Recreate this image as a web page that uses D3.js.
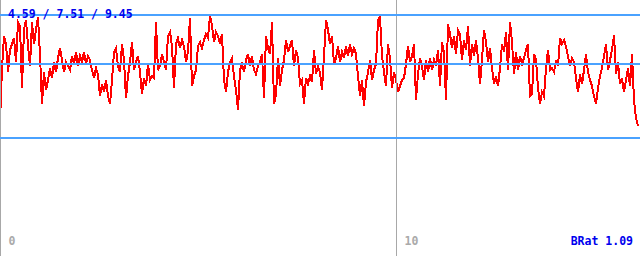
<!DOCTYPE html>
<html><head><meta charset="utf-8">
<script src="https://cdn.jsdelivr.net/npm/d3@7"></script>
<style>
html,body{margin:0;padding:0;background:#fff;}
svg{display:block;}
text{font-family:"DejaVu Sans Mono",monospace;font-weight:bold;font-size:11.5px;}
</style></head>
<body><svg id="c" width="640" height="256"></svg>
<script>
const levelTicks = [4.59, 7.51, 9.45];
const timeTicks = [0, 10];
const ratioLabel = "BRat 1.09";
const sampleStep = 10 / 198;
const series = [
5.17,7.31,8.58,8.26,7.15,8.03,8.26,8.50,7.55,9.13,8.98,6.52,8.82,9.21,8.22,7.39,9.13,8.26,8.82,9.33,
7.83,5.89,7.15,6.44,6.84,7.31,6.92,7.55,7.15,7.71,8.10,7.63,7.15,7.55,7.39,7.23,7.79,7.47,7.95,7.39,
7.79,7.55,7.95,7.47,7.79,7.63,7.23,6.92,7.31,7.07,6.20,6.68,6.36,6.84,6.20,5.89,6.84,7.95,8.10,7.39,
7.15,8.26,7.63,6.12,7.00,7.55,8.34,7.23,7.55,7.79,7.15,6.28,6.92,6.60,7.47,6.84,7.00,6.92,9.13,7.23,
7.39,7.87,7.55,7.23,8.58,8.74,8.18,6.52,8.26,8.50,8.10,8.42,8.18,7.55,7.95,9.29,6.60,7.00,7.23,8.18,
8.34,8.10,8.42,8.66,8.50,9.41,8.98,8.34,8.74,8.58,8.26,8.66,6.84,6.36,7.15,7.55,7.71,7.00,6.44,5.65,
7.23,7.47,7.15,7.63,7.87,7.39,7.79,7.23,7.07,7.39,7.55,7.87,6.12,8.58,8.10,7.87,9.13,5.89,6.28,7.71,
6.60,7.23,7.63,8.42,7.95,8.18,8.42,7.39,8.03,7.71,6.68,6.84,5.89,6.92,6.68,7.00,6.76,8.03,7.07,7.39,
7.15,6.44,7.79,9.21,8.82,8.26,8.58,7.47,7.71,8.18,7.55,7.95,7.71,8.18,7.79,8.26,7.87,8.10,7.87,7.00,
6.20,6.84,5.81,6.76,7.15,7.63,6.84,7.23,7.47,9.21,9.33,7.79,7.15,6.60,8.26,7.71,6.52,7.15,6.84,6.36,
6.60,6.84,6.92,7.47,8.18,7.55,7.79,8.26,6.05,7.07,7.71,7.39,6.84,7.63,7.15,7.71,7.23,7.63,7.39,8.03,
6.60,8.34,7.95,6.05,9.05,8.66,8.10,8.58,7.87,8.82,8.66,7.63,8.42,8.03,8.98,7.39,8.26,7.79,8.42,7.71,
6.68,7.63,8.82,8.34,7.55,8.10,7.31,6.68,7.00,6.60,7.31,8.26,7.95,8.74,7.23,9.13,8.34,7.07,7.95,7.23,
7.79,7.47,7.71,8.03,8.26,6.20,6.28,7.87,7.63,6.52,5.89,6.36,6.20,7.31,8.03,7.23,7.31,7.15,7.63,7.39,
8.50,8.26,8.42,8.18,7.79,7.39,7.71,7.55,6.92,6.36,7.07,6.68,7.23,7.87,7.15,6.84,6.60,6.20,5.89,6.52,
7.00,7.31,7.79,8.26,7.23,7.63,8.03,8.62,7.07,7.55,6.68,6.92,6.36,6.84,7.31,6.60,7.87,6.05,5.33,5.02
];

const W = 640, H = 256;
const svg = d3.select("#c");
const x = d3.scaleLinear().domain([0, 10]).range([0, 396]);
const y = d3.scaleLinear().domain([levelTicks[0], levelTicks[2]]).range([137, 14]);

const data = series.map((v, i) => ({t: i * sampleStep, v}));

svg.append("path")
  .datum(data)
  .attr("fill", "none")
  .attr("stroke", "#ff0000")
  .attr("stroke-width", 2)
  .attr("stroke-linejoin", "miter")
  .attr("shape-rendering", "crispEdges")
  .attr("d", d3.line().x(d => x(d.t)).y(d => y(d.v)));

// vertical time grid
const gx = svg.append("g").attr("transform", `translate(0,${H})`)
  .call(d3.axisBottom(x).tickValues(timeTicks).tickSize(-H).tickFormat(d3.format("d")));
gx.select(".domain").remove();
gx.selectAll(".tick line").attr("stroke", "#a8a8a8").attr("stroke-width", 1.5)
  .attr("shape-rendering", "crispEdges");
gx.selectAll(".tick text")
  .attr("fill", "#aaaaaa").attr("text-anchor", "start")
  .attr("x", 8).attr("y", -11).attr("dy", 0)
  .style("font-family", "'DejaVu Sans Mono',monospace").style("font-size", "11.5px").style("font-weight", "bold");

// horizontal level grid
const gy = svg.append("g")
  .call(d3.axisLeft(y).tickValues(levelTicks).tickSize(-W).tickFormat(""));
gy.select(".domain").remove();
gy.selectAll(".tick line").attr("stroke", "#4aa2ff").attr("stroke-width", 2)
  .attr("shape-rendering", "crispEdges");

svg.append("text").attr("x", 8).attr("y", 18).attr("fill", "#0000ee")
  .text(levelTicks.map(d => d.toFixed(2)).join(" / "));
svg.append("text").attr("x", 633).attr("y", 245).attr("text-anchor", "end").attr("fill", "#0000ee")
  .text(ratioLabel);
</script></body></html>
